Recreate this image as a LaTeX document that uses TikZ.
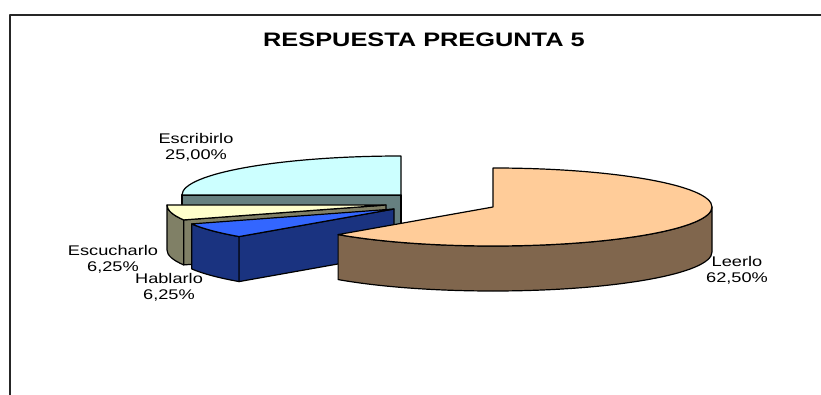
\documentclass[tikz,border=0pt]{standalone}
\usepackage{fontspec}
\setmainfont{Liberation Sans}[FakeStretch=1.3]
\usetikzlibrary{calc}

\definecolor{escrtop}{HTML}{CCFFFF}
\definecolor{escrside}{HTML}{668080}
\definecolor{escutop}{HTML}{FFFFCC}
\definecolor{escuside}{HTML}{808066}
\definecolor{habltop}{HTML}{3366FF}
\definecolor{hablside}{HTML}{1A3380}
\definecolor{leertop}{HTML}{FFCC99}
\definecolor{leerside}{HTML}{80664D}

\begin{document}
\begin{tikzpicture}[x=1pt, y=1pt, line join=round]
\tikzstyle{face} = [draw=black, line width=1.2pt]
\tikzstyle{pielabel} = [font=\fontsize{14}{16}\selectfont, align=center,
    inner sep=0pt, anchor=base]
\tikzstyle{charttitle} = [font=\fontsize{19.5}{23}\selectfont\bfseries,
    inner sep=0pt, anchor=base]
\tikzstyle{rim} = [x radius=219, y radius=39]
    \useasboundingbox (0,0) rectangle (821,-395);
    % chart frame (only its top and left edges show)
    \draw[line width=2pt, black!85] (10,-395) -- (10,-15) -- (821,-15);
    \node[charttitle] (title) at (424,-46.7) {RESPUESTA PREGUNTA 5};

    % centres of the exploded slices
    \coordinate (escr) at (401,-195);
    \coordinate (escu) at (386,-205);
    \coordinate (habl) at (394,-209);
    \coordinate (leer) at (493,-207);

    % Escribirlo, the back slice
    \filldraw[face, fill=escrside] (escr) -- ++(-219,0) -- ++(0,-45)
        -- ++(219,0) -- cycle;
    \filldraw[face, fill=escrtop] (escr) -- ++(0,39)
        arc[rim, start angle=90, end angle=180] -- cycle;

    % Escucharlo
    \filldraw[face, fill=escuside] ($(escu)+(180:219 and 39)$)
        arc[rim, start angle=180, end angle=202.5] -- ++(0,-45)
        arc[rim, start angle=202.5, end angle=180] -- cycle;
    \filldraw[face, fill=escuside] (escu) -- ++(202.5:219 and 39)
        -- ++(0,-45) -- ($(escu)+(0,-45)$) -- cycle;
    \filldraw[face, fill=escutop] (escu) -- ++(180:219 and 39)
        arc[rim, start angle=180, end angle=202.5] -- cycle;

    % Hablarlo
    \filldraw[face, fill=hablside] ($(habl)+(202.5:219 and 39)$)
        arc[rim, start angle=202.5, end angle=225] -- ++(0,-45)
        arc[rim, start angle=225, end angle=202.5] -- cycle;
    \filldraw[face, fill=hablside] (habl) -- ++(225:219 and 39)
        -- ++(0,-45) -- ($(habl)+(0,-45)$) -- cycle;
    \filldraw[face, fill=habltop] (habl) -- ++(202.5:219 and 39)
        arc[rim, start angle=202.5, end angle=225] -- cycle;

    % Leerlo, the front slice
    \filldraw[face, fill=leerside] ($(leer)+(225:219 and 39)$)
        arc[rim, start angle=225, end angle=360] -- ++(0,-45)
        arc[rim, start angle=360, end angle=225] -- cycle;
    \filldraw[face, fill=leertop] (leer) -- ++(0,39)
        arc[rim, start angle=90, end angle=-135] -- cycle;

    % data labels (base is the second line)
    \node[pielabel] (lescr) at (196,-160) {Escribirlo\\25,00\%};
    \node[pielabel] (lescu) at (113,-271) {Escucharlo\\6,25\%};
    \node[pielabel] (lhabl) at (169,-299) {Hablarlo\\6,25\%};
    \node[pielabel] (lleer) at (737,-282.7) {Leerlo\\62,50\%};
\end{tikzpicture}
\end{document}
